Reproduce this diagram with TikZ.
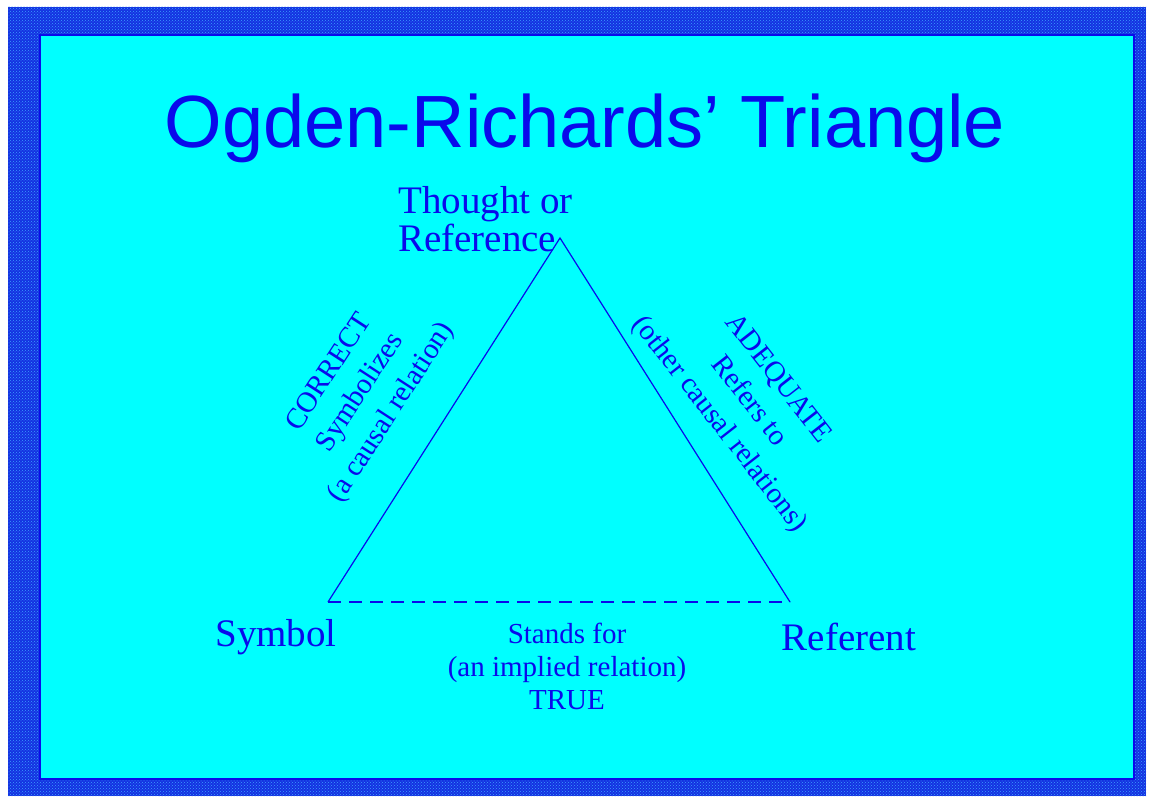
\documentclass[tikz,border=0pt]{standalone}
\usepackage{fontspec}
\setmainfont{Liberation Serif}
\newfontfamily\titlefont{Liberation Sans}
\usepackage{tikz}
\usetikzlibrary{patterns}
\definecolor{slideblue}{RGB}{10,10,235}
\definecolor{slidecyan}{RGB}{0,255,255}
\definecolor{framedark}{RGB}{20,50,225}
\definecolor{framelight}{RGB}{60,160,255}

\tikzset{
  corner label/.style={font=\fontsize{39}{38}\selectfont, text=slideblue},
  side label/.style={font=\fontsize{29}{33}\selectfont, text=slideblue, align=center},
  slant label/.style={font=\fontsize{29}{37}\selectfont, text=slideblue, align=center},
  tri line/.style={draw=slideblue, line width=1.2pt}
}

\begin{document}
\begin{tikzpicture}[x=1pt,y=-1pt]
  \useasboundingbox (0,0) rectangle (1150,799);
  \fill[white] (0,0) rectangle (1150,799);

  % Frame
  \fill[framedark] (8,7) rectangle (1146,796);
  \fill[pattern=crosshatch dots, pattern color=framelight] (8,7) rectangle (1146,796);
  \fill[slidecyan] (40,35) rectangle (1134,779);
  \draw[slideblue, line width=2pt] (40,35) rectangle (1134,779);

  % Title
  \node[font=\titlefont\fontsize{74}{78}\selectfont, text=slideblue] (title) at (585,128) {Ogden-Richards’ Triangle};

  % Corners
  \coordinate (apex) at (560,238);
  \coordinate (lcorner) at (328,602);
  \coordinate (rcorner) at (790,602);

  \node[corner label, align=left, anchor=north west, inner sep=0pt] (thought) at (398,186) {Thought or\\Reference};
  \node[corner label] (symbol) at (276,637) {Symbol};
  \node[corner label] (referent) at (849,637) {Referent};

  % Sides
  \draw[tri line] (lcorner) -- (apex) -- (rcorner);
  \draw[tri line, dash pattern=on 13pt off 8pt] (lcorner) -- (rcorner);

  % Side labels
  \node[slant label, rotate=57] (symbolizes) at (361,393) {CORRECT\\Symbolizes\\(a causal relation)};
  \node[slant label, rotate=-52] (refersto) at (748,402) {ADEQUATE\\Refers to\\(other causal relations)};
  \node[side label, anchor=north] (standsfor) at (567,620) {Stands for\\(an implied relation)\\TRUE};
\end{tikzpicture}
\end{document}
